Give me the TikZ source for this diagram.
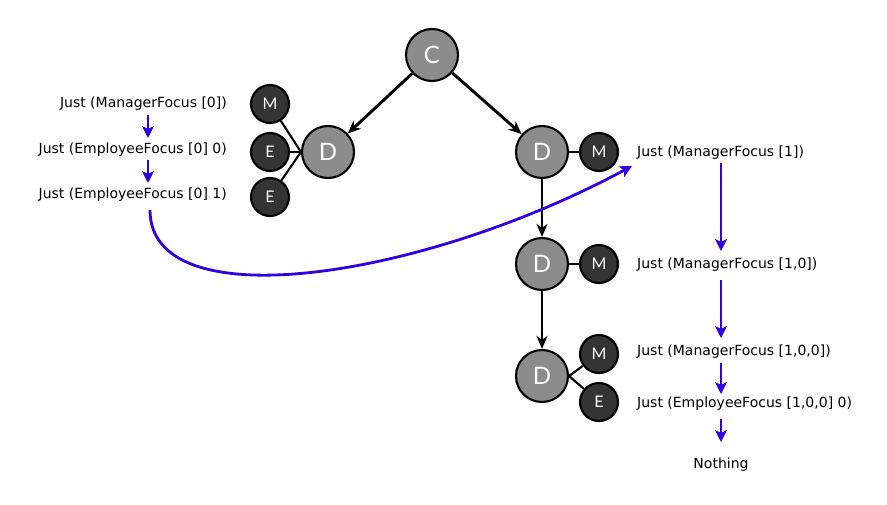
\documentclass[tikz,border=0pt]{standalone}
\usepackage{fontspec}
\setmainfont{DejaVu Sans}
\newfontfamily\circfont{Lato}
\usetikzlibrary{arrows.meta}
\definecolor{biggray}{RGB}{140,140,140}
\definecolor{smalldark}{RGB}{52,52,52}
\definecolor{focusblue}{RGB}{48,0,224}
\tikzset{
  bigc/.style={circle,draw=black,line width=2.1pt,fill=biggray,minimum size=52pt,inner sep=0pt,text=white,font=\circfont\fontsize{24}{24}\selectfont},
  smallc/.style={circle,draw=black,line width=2.1pt,fill=smalldark,minimum size=38pt,inner sep=0pt,text=white,font=\circfont\fontsize{16}{16}\selectfont},
  tree/.style={line width=2.9pt,-{Stealth[length=13pt,width=11pt,inset=4pt]}},
  link/.style={line width=2.1pt},
  lab/.style={inner sep=0pt,font=\fontsize{14}{16}\selectfont},
  flow/.style={line width=2.8pt,draw=focusblue,-{Stealth[length=12pt,width=12pt,inset=3pt]}},
}
\begin{document}
\begin{tikzpicture}[x=1pt,y=-1pt]
\useasboundingbox (0,0) rectangle (887,504);
% tree nodes
\node[bigc] (C) at (432,55) {C};
\node[bigc] (D1) at (328,152) {D};
\node[smallc] (M1) at (270,104) {M};
\node[smallc] (E1) at (270,152) {E};
\node[smallc] (E2) at (270,197) {E};
\node[bigc] (D2) at (542,152) {D};
\node[smallc] (M2) at (599,152) {M};
\node[bigc] (D3) at (542,264) {D};
\node[smallc] (M3) at (599,264) {M};
\node[bigc] (D4) at (542,376) {D};
\node[smallc] (M4) at (599,354) {M};
\node[smallc] (E4) at (599,402) {E};
% tree edges
\draw[tree] (C) -- (D1);
\draw[tree] (C) -- (D2);
\draw[tree] (D2) -- (D3);
\draw[tree] (D3) -- (D4);
\draw[link] (M1) -- (D1.west);
\draw[link] (E1) -- (D1.west);
\draw[link] (E2) -- (D1.west);
\draw[link] (D2) -- (M2);
\draw[link] (D3) -- (M3);
\draw[link] (D4.east) -- (M4);
\draw[link] (D4.east) -- (E4);
% left labels
\node[lab,anchor=east] (L1) at (227,104) {Just (ManagerFocus [0])};
\node[lab,anchor=east] (L2) at (227,150) {Just (EmployeeFocus [0] 0)};
\node[lab,anchor=east] (L3) at (227,195) {Just (EmployeeFocus [0] 1)};
\coordinate (a1s) at (148,115); \coordinate (a1e) at (148,138);
\coordinate (a2s) at (148,160); \coordinate (a2e) at (148,183);
\draw[flow] (a1s) -- (a1e);
\draw[flow] (a2s) -- (a2e);
% right labels
\node[lab,anchor=west] (R1) at (637,153) {Just (ManagerFocus [1])};
\node[lab,anchor=west] (R2) at (637,265) {Just (ManagerFocus [1,0])};
\node[lab,anchor=west] (R3) at (637,352) {Just (ManagerFocus [1,0,0])};
\node[lab,anchor=west] (R4) at (637,404) {Just (EmployeeFocus [1,0,0] 0)};
\node[lab] (R5) at (721,465) {Nothing};
\coordinate (b1s) at (721,163); \coordinate (b1e) at (721,251);
\coordinate (b2s) at (721,280); \coordinate (b2e) at (721,338);
\coordinate (b3s) at (721,363); \coordinate (b3e) at (721,394);
\coordinate (b4s) at (721,419); \coordinate (b4e) at (721,442);
\draw[flow] (b1s) -- (b1e);
\draw[flow] (b2s) -- (b2e);
\draw[flow] (b3s) -- (b3e);
\draw[flow] (b4s) -- (b4e);
% jump curve
\coordinate (cs) at (150,210);
\coordinate (ce) at (632,166);
\draw[flow] (cs) .. controls (150,320) and (420,280) .. (ce);
\end{tikzpicture}
\end{document}
